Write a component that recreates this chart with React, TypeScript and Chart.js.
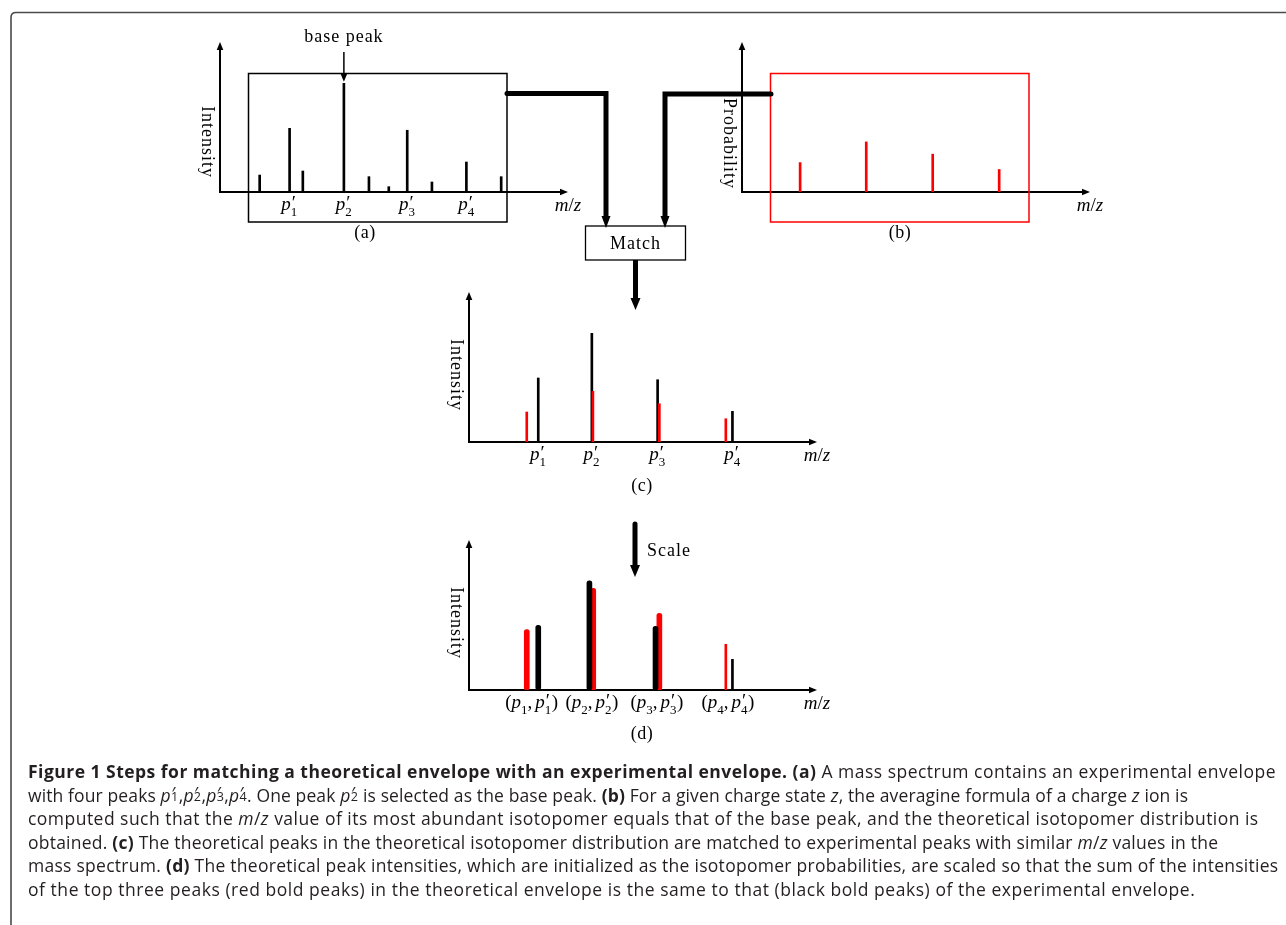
import React, { useEffect, useRef } from "react";
import { Chart, registerables } from "chart.js";

Chart.register(...registerables);

// ---------------- data (m/z in arbitrary units along each axis, intensities relative to base peak = 100) ----------------
// (a) experimental mass spectrum
const A_MZ = [1.14, 2.0, 2.38, 3.56, 4.28, 4.85, 5.38, 6.09, 7.08, 8.08];
const A_INTENSITY = [15.6, 58.6, 19.3, 100, 14.1, 4.9, 56.8, 9.2, 27.6, 14.1];
const A_TICK_MZ = [2.0, 3.56, 5.38, 7.08];
const A_TICK_LABELS = ["p'1", "p'2", "p'3", "p'4"];
const A_BASE_PEAK_INDEX = 3;

// (b) theoretical isotopomer distribution
const B_MZ = [1.67, 3.57, 5.48, 7.39];
const B_PROBABILITY = [0.196, 0.334, 0.252, 0.15];

// (c) matching
const C_EXP_MZ = [1.99, 3.53, 5.42, 7.57];
const C_EXP_INTENSITY = [58.9, 100, 57.3, 28.2];
const C_THEO_MZ = [1.66, 3.56, 5.47, 7.38];
const C_THEO_PROBABILITY = [0.2, 0.338, 0.255, 0.155];
const C_TICK_LABELS = ["p'1", "p'2", "p'3", "p'4"];

// (d) scaling
const D_EXP_MZ = [1.99, 3.46, 5.36, 7.57];
const D_EXP_INTENSITY = [59.5, 100.5, 58.5, 28.2];
const D_THEO_MZ = [1.66, 3.57, 5.47, 7.38];
const D_THEO_SCALED = [55.5, 93.6, 70.6, 42.0];
const D_BOLD = [true, true, true, false];
const D_TICK_MZ = [1.8, 3.53, 5.4, 7.44];
const D_TICK_LABELS = ["(p1, p'1)", "(p2, p'2)", "(p3, p'3)", "(p4, p'4)"];

// ---------------- styling ----------------
const SERIF = '"Liberation Serif", "Times New Roman", serif';
const RED = "#ff0000";
const BLACK = "#000000";
const INTENSITY_MAX = 138;
const PROB_MAX = 1.0;
const X_MAX = 10;
const WORD_SPACING = "1px";

function arrowHead(ctx: CanvasRenderingContext2D, x: number, y: number, dir: "up" | "right", len = 8, half = 3.3) {
  ctx.beginPath();
  if (dir === "up") {
    ctx.moveTo(x, y);
    ctx.lineTo(x - half, y + len);
    ctx.lineTo(x + half, y + len);
  } else {
    ctx.moveTo(x, y);
    ctx.lineTo(x - len, y - half);
    ctx.lineTo(x - len, y + half);
  }
  ctx.closePath();
  ctx.fill();
}

function setSpacing(ctx: any, v: string) {
  if ("letterSpacing" in ctx) ctx.letterSpacing = v;
}

function drawMath(ctx: CanvasRenderingContext2D, s: string, cx: number, baseline: number, size: number) {
  const R = `${size}px ${SERIF}`;
  const I = `italic ${size}px ${SERIF}`;
  const S = `${Math.round(size * 0.7)}px ${SERIF}`;
  const ops: { t: string; f: string; dx: number; dy: number }[] = [];
  setSpacing(ctx, "0px");
  const w = (t: string, f: string) => {
    ctx.font = f;
    return ctx.measureText(t).width;
  };
  let x = 0;
  for (let i = 0; i < s.length; i++) {
    const ch = s[i];
    if (ch === "'") {
      const sub = /\d/.test(s[i + 1] || "") ? s[++i] : "";
      ops.push({ t: "\u2032", f: R, dx: x + 1, dy: -1 });
      let adv = w("\u2032", R) + 1;
      if (sub) {
        ops.push({ t: sub, f: S, dx: x, dy: size * 0.3 });
        adv = Math.max(adv, w(sub, S));
      }
      x += adv + 0.5;
    } else if (/\d/.test(ch)) {
      ops.push({ t: ch, f: S, dx: x, dy: size * 0.3 });
      x += w(ch, S);
    } else if (/[pmz]/.test(ch)) {
      ops.push({ t: ch, f: I, dx: x, dy: 0 });
      x += w(ch, I);
    } else if (ch === " ") {
      x += size * 0.15;
    } else {
      ops.push({ t: ch, f: R, dx: x, dy: 0 });
      x += w(ch, R);
    }
  }
  const start = cx - x / 2;
  ctx.textAlign = "left";
  ctx.textBaseline = "alphabetic";
  for (const o of ops) {
    ctx.font = o.f;
    ctx.fillText(o.t, start + o.dx, baseline + o.dy);
  }
}

type Spec = {
  left: number;
  top: number;
  width: number;
  height: number;
  pad: { left: number; top: number; right: number; bottom: number };
  datasets: any[];
  tickMz?: number[];
  tickLabels?: string[];
  yTitle: string;
  yTitleDy: number;
  tag: string;
  tagDx: number;
  tagDy: number;
  extra?: (chart: any) => void;
};

function makeDecor(spec: Spec) {
  return {
    id: "panelDecor",
    beforeDatasetsDraw(chart: any) {
      const { ctx, chartArea: a } = chart;
      ctx.save();
      ctx.strokeStyle = BLACK;
      ctx.fillStyle = BLACK;
      ctx.lineWidth = 2;
      ctx.beginPath();
      ctx.moveTo(a.left - 1, a.bottom);
      ctx.lineTo(a.right - 6, a.bottom);
      ctx.moveTo(a.left, a.bottom + 1);
      ctx.lineTo(a.left, a.top + 6);
      ctx.stroke();
      arrowHead(ctx, a.right, a.bottom, "right");
      arrowHead(ctx, a.left, a.top, "up");
      ctx.restore();
    },
    afterDatasetsDraw(chart: any) {
      const { ctx, chartArea: a } = chart;
      ctx.save();
      ctx.fillStyle = BLACK;
      if (spec.tickMz && spec.tickLabels) {
        spec.tickMz.forEach((v, i) => {
          const px = chart.scales.x.getPixelForValue(v);
          drawMath(ctx, spec.tickLabels![i], px, a.bottom + 18, 19);
        });
      }
      drawMath(ctx, "m/z", a.right, a.bottom + 18.5, 19);
      ctx.save();
      ctx.translate(a.left - 13, a.bottom + spec.yTitleDy);
      ctx.rotate(Math.PI / 2);
      ctx.font = `18px ${SERIF}`;
      setSpacing(ctx, WORD_SPACING);
      ctx.textAlign = "center";
      ctx.textBaseline = "middle";
      ctx.fillText(spec.yTitle, 0, 0);
      ctx.restore();
      ctx.font = `18px ${SERIF}`;
      setSpacing(ctx, "0.5px");
      ctx.textAlign = "center";
      ctx.textBaseline = "alphabetic";
      ctx.fillText(spec.tag, a.left + spec.tagDx, a.bottom + spec.tagDy);
      if (spec.extra) spec.extra(chart);
      ctx.restore();
    },
  };
}

function bars(xs: number[], ys: number[], color: string, thickness: number, yAxisID = "y") {
  return {
    type: "bar",
    data: xs.map((x, i) => ({ x, y: ys[i] })),
    backgroundColor: color,
    barThickness: thickness,
    grouped: false,
    borderWidth: 0,
    borderRadius: thickness >= 4 ? thickness / 2 : 0,
    borderSkipped: false,
    yAxisID,
  };
}

const pick = (arr: number[], bold: boolean) => arr.filter((_, i) => D_BOLD[i] === bold);

const SPEC_A: Spec = {
  left: 180,
  top: 20,
  width: 420,
  height: 235,
  pad: { left: 40, top: 22, right: 32, bottom: 63 },
  datasets: [bars(A_MZ, A_INTENSITY, BLACK, 2)],
  tickMz: A_TICK_MZ,
  tickLabels: A_TICK_LABELS,
  yTitle: "Intensity",
  yTitleDy: -50,
  tag: "(a)",
  tagDx: 145,
  tagDy: 46,
  extra: (chart: any) => {
    const { ctx, chartArea: a } = chart;
    const x = chart.scales.x.getPixelForValue(A_MZ[A_BASE_PEAK_INDEX]);
    const yTop = chart.scales.y.getPixelForValue(A_INTENSITY[A_BASE_PEAK_INDEX]);
    ctx.font = `18px ${SERIF}`;
    setSpacing(ctx, WORD_SPACING);
    ctx.textAlign = "center";
    ctx.textBaseline = "alphabetic";
    ctx.fillText("base peak", x, a.top);
    ctx.strokeStyle = BLACK;
    ctx.lineWidth = 1.5;
    ctx.beginPath();
    ctx.moveTo(x, a.top + 10);
    ctx.lineTo(x, yTop - 8);
    ctx.stroke();
    ctx.beginPath();
    ctx.moveTo(x, yTop - 1.5);
    ctx.lineTo(x - 3.5, yTop - 10);
    ctx.lineTo(x + 3.5, yTop - 10);
    ctx.closePath();
    ctx.fill();
  },
};

const SPEC_B: Spec = {
  left: 700,
  top: 20,
  width: 430,
  height: 235,
  pad: { left: 42, top: 22, right: 40, bottom: 63 },
  datasets: [bars(B_MZ, B_PROBABILITY, RED, 2, "yProb")],
  yTitle: "Probability",
  yTitleDy: -48.5,
  tag: "(b)",
  tagDx: 158,
  tagDy: 46,
};

const SPEC_C: Spec = {
  left: 420,
  top: 270,
  width: 430,
  height: 230,
  pad: { left: 49, top: 22, right: 33, bottom: 58 },
  datasets: [bars(C_THEO_MZ, C_THEO_PROBABILITY, RED, 2, "yProb"), bars(C_EXP_MZ, C_EXP_INTENSITY, BLACK, 2)],
  tickMz: C_EXP_MZ,
  tickLabels: C_TICK_LABELS,
  yTitle: "Intensity",
  yTitleDy: -67,
  tag: "(c)",
  tagDx: 173,
  tagDy: 49,
};

const SPEC_D: Spec = {
  left: 420,
  top: 518,
  width: 430,
  height: 230,
  pad: { left: 49, top: 22, right: 33, bottom: 58 },
  datasets: [
    bars(pick(D_EXP_MZ, true), pick(D_EXP_INTENSITY, true), BLACK, 5),
    bars(pick(D_EXP_MZ, false), pick(D_EXP_INTENSITY, false), BLACK, 2),
    bars(pick(D_THEO_MZ, true), pick(D_THEO_SCALED, true), RED, 5),
    bars(pick(D_THEO_MZ, false), pick(D_THEO_SCALED, false), RED, 2),
  ],
  tickMz: D_TICK_MZ,
  tickLabels: D_TICK_LABELS,
  yTitle: "Intensity",
  yTitleDy: -67,
  tag: "(d)",
  tagDx: 173,
  tagDy: 49,
};

function Panel({ spec }: { spec: Spec }) {
  const ref = useRef<HTMLCanvasElement>(null);
  useEffect(() => {
    const chart = new Chart(ref.current as HTMLCanvasElement, {
      type: "bar",
      data: { datasets: spec.datasets as any },
      options: {
        animation: false,
        responsive: false,
        events: [],
        layout: { padding: spec.pad },
        plugins: { legend: { display: false }, tooltip: { enabled: false } },
        scales: {
          x: { type: "linear", min: 0, max: X_MAX, display: false, offset: false, grid: { offset: false } },
          y: { type: "linear", min: 0, max: INTENSITY_MAX, display: false },
          yProb: { type: "linear", min: 0, max: PROB_MAX, display: false, position: "left" },
        },
      } as any,
      plugins: [makeDecor(spec)],
    });
    return () => chart.destroy();
  }, [spec]);
  return (
    <canvas
      ref={ref}
      width={spec.width}
      height={spec.height}
      style={{ position: "absolute", left: spec.left, top: spec.top, width: spec.width, height: spec.height }}
    />
  );
}

const Pp = ({ n }: { n: string }) => (
  <span style={{ whiteSpace: "nowrap" }}>
    <i>p</i>
    <span style={{ display: "inline-block", position: "relative", width: "0.45em", height: "1em" }}>
      <span style={{ position: "absolute", left: "0.04em", top: "0.08em", lineHeight: 1, fontStyle: "normal" }}>′</span>
      <span style={{ position: "absolute", left: "0.02em", top: "0.58em", lineHeight: 1, fontSize: "0.72em" }}>{n}</span>
    </span>
  </span>
);

function Caption() {
  const line = (ls: number): React.CSSProperties => ({ whiteSpace: "nowrap", letterSpacing: `${ls}px` });
  return (
    <div
      style={{
        position: "absolute",
        left: 28,
        top: 760,
        fontFamily: '"Open Sans", "Noto Sans", sans-serif',
        fontSize: 17.5,
        lineHeight: "23.5px",
        color: "#231f20",
      }}
    >
      <div style={line(0.48)}>
        <b>Figure 1 Steps for matching a theoretical envelope with an experimental envelope. (a)</b> A mass spectrum contains an
        experimental envelope
      </div>
      <div style={line(0.12)}>
        with four peaks <Pp n="1" />,<Pp n="2" />,<Pp n="3" />,<Pp n="4" />. One peak <Pp n="2" /> is selected as the base peak.{" "}
        <b>(b)</b> For a given charge state <i>z</i>, the averagine formula of a charge <i>z</i> ion is
      </div>
      <div style={line(0.47)}>
        computed such that the <i>m</i>/<i>z</i> value of its most abundant isotopomer equals that of the base peak, and the theoretical
        isotopomer distribution is
      </div>
      <div style={line(0.23)}>
        obtained. <b>(c)</b> The theoretical peaks in the theoretical isotopomer distribution are matched to experimental peaks with
        similar <i>m</i>/<i>z</i> values in the
      </div>
      <div style={line(0.27)}>
        mass spectrum. <b>(d)</b> The theoretical peak intensities, which are initialized as the isotopomer probabilities, are scaled so
        that the sum of the intensities
      </div>
      <div style={line(0.54)}>
        of the top three peaks (red bold peaks) in the theoretical envelope is the same to that (black bold peaks) of the experimental
        envelope.
      </div>
    </div>
  );
}

function Overlay() {
  const thick = { fill: "none", stroke: BLACK, strokeWidth: 5 } as const;
  return (
    <svg width={1286} height={925} style={{ position: "absolute", left: 0, top: 0, pointerEvents: "none" }}>
      <path d="M11 925 V17.5 Q11 12.5 16 12.5 H1286" fill="none" stroke="#4a4a4a" strokeWidth={1.6} />
      <rect x={248.5} y={73.5} width={258.5} height={148.5} fill="none" stroke={BLACK} strokeWidth={1.5} />
      <rect x={770.5} y={73.5} width={258.5} height={148.5} fill="none" stroke={RED} strokeWidth={1.5} />
      <rect x={585.5} y={226} width={100} height={34} fill="#fff" stroke={BLACK} strokeWidth={1.3} />
      <text x={635.5} y={249} textAnchor="middle" fontFamily={SERIF} fontSize={18} letterSpacing="1">
        Match
      </text>
      <path d="M507 93.5 H606 V218" {...thick} strokeLinecap="round" strokeLinejoin="miter" />
      <polygon points="601.5,216 610.5,216 606,228" fill={BLACK} />
      <path d="M771 94 H665 V218" {...thick} strokeLinecap="round" strokeLinejoin="miter" />
      <polygon points="660.5,216 669.5,216 665,228" fill={BLACK} />
      <path d="M635.5 260 V300" {...thick} />
      <polygon points="630.5,298 640.5,298 635.5,310" fill={BLACK} />
      <path d="M635 524 V567" {...thick} strokeLinecap="round" />
      <polygon points="630,565 640,565 635,577" fill={BLACK} />
      <text x={647} y={556} fontFamily={SERIF} fontSize={18} letterSpacing="1">
        Scale
      </text>
    </svg>
  );
}

export default function App() {
  return (
    <div style={{ position: "absolute", left: 0, top: 0, width: 1286, height: 925, background: "#fff", overflow: "hidden" }}>
      <Panel spec={SPEC_A} />
      <Panel spec={SPEC_B} />
      <Panel spec={SPEC_C} />
      <Panel spec={SPEC_D} />
      <Overlay />
      <Caption />
    </div>
  );
}
